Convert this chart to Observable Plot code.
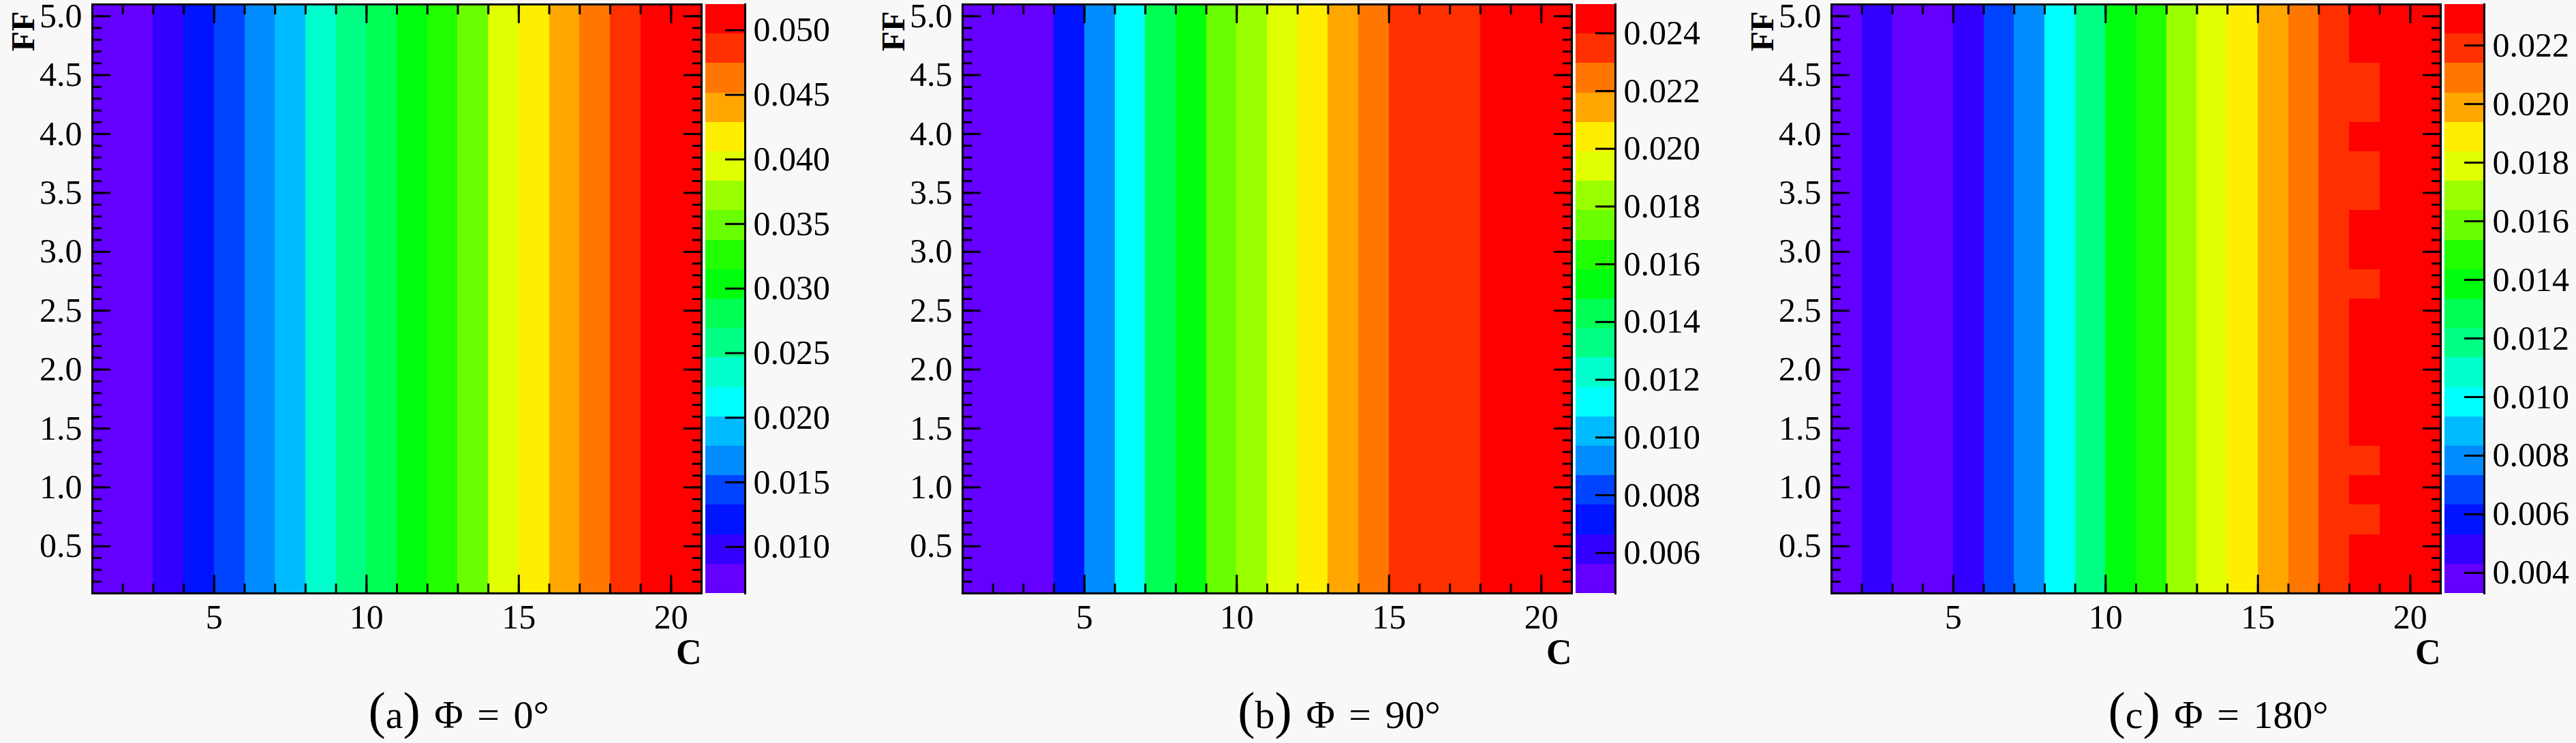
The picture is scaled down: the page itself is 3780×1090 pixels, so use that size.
<!DOCTYPE html>
<html><head><meta charset="utf-8">
<script src="https://cdn.jsdelivr.net/npm/d3@7"></script>
<script src="https://cdn.jsdelivr.net/npm/@observablehq/plot@0.6"></script>
<style>
html,body{margin:0;padding:0;background:#f8f8f8;}
#root{position:relative;width:3780px;height:1090px;overflow:hidden;background:#f8f8f8;}
.pane{position:absolute;top:0;}
.cap{position:absolute;width:700px;text-align:center;font-family:"Liberation Serif",serif;font-size:58px;line-height:58px;color:#000;white-space:pre;word-spacing:6px;}
.cap .p{font-size:76px;line-height:0;}
</style></head><body><div id="root"></div>
<script>
// ---- data ----
const C_BINS = [1,2,3,4,5,6,7,8,9,10,11,12,13,14,15,16,17,18,19,20];           // lower edge of each C bin (width 1)
const FF_BINS = [0.1,0.35,0.6,0.85,1.1,1.35,1.6,1.85,2.1,2.35,2.6,2.85,3.1,3.35,3.6,3.85,4.1,4.35,4.6,4.85]; // lower edge (width 0.25)
const FF_WIDTH = 0.25;
const phi0   = [0.0065,0.0075,0.0098,0.0121,0.0144,0.0167,0.0189,0.0235,0.0258,0.0281,0.0303,0.0326,0.0349,0.0395,0.0417,0.0440,0.0463,0.0486,0.0505,0.0519];
const phi90  = [0.0047,0.0050,0.0054,0.0071,0.0092,0.0112,0.0143,0.0153,0.0174,0.0184,0.0194,0.0204,0.0214,0.0225,0.0233,0.0235,0.0237,0.0243,0.0246,0.0249];
const phi180 = [0.0036,0.0048,0.0038,0.0040,0.0047,0.0068,0.0078,0.0098,0.0118,0.0139,0.0149,0.0169,0.0179,0.0189,0.0199,0.0209,0.0219,0.0225,0.0229,0.0232];
// phi = 180 deg, column C = 18 varies with FF (bins bottom -> top)
const phi180C18 = [0.0226,0.0227,0.0222,0.0225,0.0223,0.0226,0.0227,0.0226,0.0225,0.0226,0.0222,0.0225,0.0226,0.0223,0.0222,0.0225,0.0223,0.0222,0.0226,0.0227];
const zRange0 = [0.0064, 0.0520], zRange90 = [0.0046, 0.0250], zRange180 = [0.0033, 0.0234];
const zTicks0 = [0.010,0.015,0.020,0.025,0.030,0.035,0.040,0.045,0.050];
const zTicks90 = [0.006,0.008,0.010,0.012,0.014,0.016,0.018,0.020,0.022,0.024];
const zTicks180 = [0.004,0.006,0.008,0.010,0.012,0.014,0.016,0.018,0.020,0.022];
const ffTicks = [0.5,1.0,1.5,2.0,2.5,3.0,3.5,4.0,4.5,5.0];
const cTicks = [5,10,15,20];
const capLetters = ["a","b","c"];
const capAngles = ["0°","90°","180°"];
const N_LEVELS = 20;
// ROOT "pretty" palette colours picked for 20 contours
const palette = ["#6300FF","#3300FF","#0014FF","#0044FF","#008BFF","#00BBFF","#00FFFC","#00FFCC","#00FF85","#00FF55",
                 "#00FF0E","#22FF00","#69FF00","#99FF00","#E0FF00","#FFEE00","#FFA700","#FF7700","#FF3000","#FF0000"];

// ---- layout ----
const FRAME_W = 894, FRAME_H = 864, MT = 6, MB = 120, ML = 135, MR = 6, CB_W = 58, CB_GAP = 6;
const panels = [
  {values: phi0, col18: null, z: zRange0, zTicks: zTicks0, left: 135, capX: 673},
  {values: phi90, col18: null, z: zRange90, zTicks: zTicks90, left: 1412, capX: 1965},
  {values: phi180, col18: phi180C18, z: zRange180, zTicks: zTicks180, left: 2687, capX: 3255}
];
const root = document.getElementById("root");
const font = "'Liberation Serif', 'Times New Roman', serif";
const minorC = d3.range(2, 21);
const minorFF = d3.range(1, 52).map(i => i / 10);

panels.forEach((p, idx) => {
  const step = (p.z[1] - p.z[0]) / N_LEVELS;
  const thresholds = d3.range(1, N_LEVELS).map(i => p.z[0] + i * step);
  const color = {type: "threshold", domain: thresholds, range: palette};
  const cells = [];
  C_BINS.forEach((c, i) => FF_BINS.forEach((ff, k) => {
    cells.push({c, ff, v: (p.col18 && c === 18) ? p.col18[k] : p.values[i]});
  }));
  const style = {background: "transparent", fontFamily: font, fontSize: "50px", color: "black", overflow: "visible", maxWidth: "none"};
  const main = Plot.plot({
    width: ML + FRAME_W + MR, height: MT + FRAME_H + MB,
    marginLeft: ML, marginRight: MR, marginTop: MT, marginBottom: MB,
    style,
    x: {domain: [1, 21]},
    y: {domain: [0.1, 5.1]},
    color,
    marks: [
      Plot.rect(cells, {x1: "c", x2: d => d.c + 1, y1: "ff", y2: d => d.ff + FF_WIDTH, fill: "v", shapeRendering: "crispEdges"}),
      Plot.axisX(minorC, {anchor: "bottom", tickSize: -14, fill: "none", strokeWidth: 3}),
      Plot.axisX(minorC, {anchor: "top", tickSize: -14, fill: "none", strokeWidth: 3}),
      Plot.axisX(cTicks, {anchor: "bottom", tickSize: -27, fill: "none", strokeWidth: 3}),
      Plot.axisX(cTicks, {anchor: "top", tickSize: -27, fill: "none", strokeWidth: 3}),
      Plot.axisY(minorFF, {anchor: "left", tickSize: -14, fill: "none", strokeWidth: 3}),
      Plot.axisY(minorFF, {anchor: "right", tickSize: -14, fill: "none", strokeWidth: 3}),
      Plot.axisY(ffTicks, {anchor: "left", tickSize: -27, fill: "none", strokeWidth: 3}),
      Plot.axisY(ffTicks, {anchor: "right", tickSize: -27, fill: "none", strokeWidth: 3}),
      Plot.axisX(cTicks, {anchor: "bottom", tickSize: 0, tickPadding: 16, label: null, fontSize: 50}),
      Plot.axisY(ffTicks, {anchor: "left", tickSize: 0, tickPadding: 15, label: null, fontSize: 50, tickFormat: d3.format(".1f")}),
      Plot.frame({stroke: "black", strokeWidth: 3}),
      Plot.text(["FF"], {frameAnchor: "top-left", rotate: -90, textAnchor: "end", lineAnchor: "middle", dx: -101, dy: 10, fontWeight: "bold", fontSize: 48}),
      Plot.text(["C"], {frameAnchor: "bottom-right", textAnchor: "end", lineAnchor: "bottom", dy: 103, fontWeight: "bold", fontSize: 52})
    ]
  });
  const levels = d3.range(N_LEVELS).map(i => ({lo: p.z[0] + i * step, hi: p.z[0] + (i + 1) * step}));
  const bar = Plot.plot({
    width: CB_W + 170, height: MT + FRAME_H + MB,
    marginLeft: 0, marginRight: 170, marginTop: MT, marginBottom: MB,
    style,
    y: {domain: p.z},
    color,
    marks: [
      Plot.rect(levels, {y1: "lo", y2: "hi", fill: d => (d.lo + d.hi) / 2, shapeRendering: "crispEdges"}),
      Plot.frame({anchor: "right", stroke: "black", strokeWidth: 3}),
      Plot.axisY(p.zTicks, {anchor: "right", tickSize: -30, fill: "none", strokeWidth: 3}),
      Plot.axisY(p.zTicks, {anchor: "right", tickSize: 0, tickPadding: 12, label: null, fontSize: 50, tickFormat: d3.format(".3f")})
    ]
  });
  const d1 = document.createElement("div");
  d1.className = "pane"; d1.style.left = (p.left - ML) + "px"; d1.style.width = (ML + FRAME_W + MR) + "px";
  d1.appendChild(main); root.appendChild(d1);
  const d2 = document.createElement("div");
  d2.className = "pane"; d2.style.left = (p.left + FRAME_W + CB_GAP) + "px"; d2.style.width = (CB_W + 170) + "px";
  d2.appendChild(bar); root.appendChild(d2);
  const cap = document.createElement("div");
  cap.className = "cap"; cap.style.left = (p.capX - 350) + "px"; cap.style.top = "1020px";
  cap.innerHTML = `<span class="p">(</span>${capLetters[idx]}<span class="p">)</span> Φ = ${capAngles[idx]}`;
  root.appendChild(cap);
});
</script></body></html>
